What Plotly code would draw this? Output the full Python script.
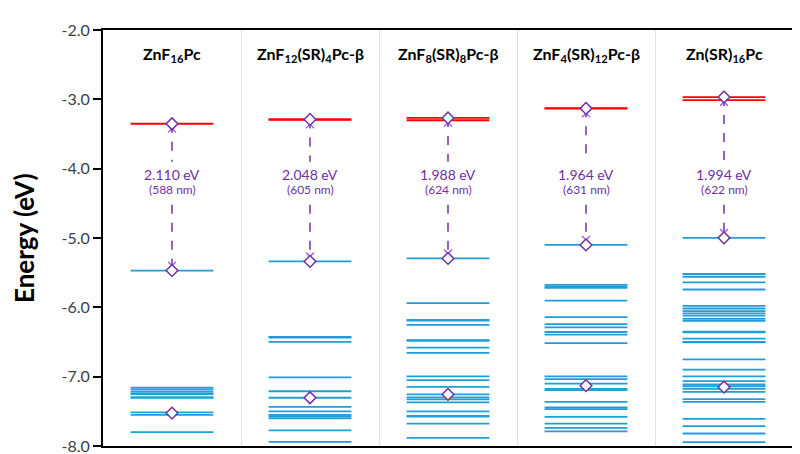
import plotly.graph_objects as go

# ---------------- data ----------------
compounds = ["ZnF<sub>16</sub>Pc", "ZnF<sub>12</sub>(SR)<sub>4</sub>Pc-β",
             "ZnF<sub>8</sub>(SR)<sub>8</sub>Pc-β", "ZnF<sub>4</sub>(SR)<sub>12</sub>Pc-β",
             "Zn(SR)<sub>16</sub>Pc"]
gap_ev = ["2.110", "2.048", "1.988", "1.964", "1.994"]
gap_nm = ["588", "605", "624", "631", "622"]

lumo = [-3.352, -3.290, -3.268, -3.130, -2.967]
homo = [-5.470, -5.338, -5.295, -5.100, -4.998]

unocc_levels = [
    [-3.352],
    [-3.287, -3.295],
    [-3.268, -3.302],
    [-3.128, -3.134],
    [-2.967, -3.010],
]
occ_levels = [
    [-5.470, -7.157, -7.185, -7.220, -7.250, -7.295, -7.305, -7.516, -7.550, -7.800],
    [-5.338, -6.428, -6.436, -6.498, -7.011, -7.210, -7.304, -7.436, -7.500, -7.550,
     -7.570, -7.600, -7.775, -7.940],
    [-5.295, -5.940, -6.183, -6.191, -6.252, -6.474, -6.482, -6.580, -6.658, -6.997,
     -7.050, -7.148, -7.256, -7.300, -7.327, -7.370, -7.500, -7.565, -7.575, -7.676,
     -7.884],
    [-5.100, -5.677, -5.700, -5.720, -5.904, -6.140, -6.243, -6.290, -6.356, -6.394,
     -6.516, -6.997, -7.035, -7.100, -7.176, -7.195, -7.365, -7.445, -7.468, -7.580,
     -7.676, -7.740, -7.790],
    [-4.998, -5.516, -5.524, -5.560, -5.640, -5.743, -5.980, -6.017, -6.054, -6.087,
     -6.120, -6.167, -6.195, -6.352, -6.360, -6.450, -6.498, -6.506, -6.752, -6.898,
     -6.997, -7.063, -7.110, -7.138, -7.176, -7.220, -7.323, -7.365, -7.610, -7.714,
     -7.820, -7.945],
]
marked_deep = [-7.525, -7.304, -7.256, -7.130, -7.150]

y_ticks = [-2.0, -3.0, -4.0, -5.0, -6.0, -7.0, -8.0]
y_tick_text = ["-2.0", "-3.0", "-4.0", "-5.0", "-6.0", "-7.0", "-8.0"]

# ---------------- style / layout constants ----------------
BLUE = "rgb(30,158,218)"
RED = "rgb(255,0,0)"
PURPLE = "#7030A0"
FONT = "Lato, 'Open Sans', sans-serif"
TITLE_Y = -2.36
EV_Y = -4.09
NM_Y = -4.305
GAP_TOP = -3.90
GAP_BOTTOM = -4.52

fig = go.Figure()

def level_trace(levels_per_col, color):
    xs, ys = [], []
    for i, levels in enumerate(levels_per_col):
        for e in levels:
            xs += [i + 0.2, i + 0.8, None]
            ys += [e, e, None]
    return go.Scatter(x=xs, y=ys, mode="lines", line=dict(color=color, width=1.8),
                      hoverinfo="skip", showlegend=False)

fig.add_trace(level_trace(occ_levels, BLUE))
fig.add_trace(level_trace(unocc_levels, RED))

# dashed transition lines (interrupted around the label)
xs, ys = [], []
for i in range(len(compounds)):
    xs += [i + 0.5, i + 0.5, None, i + 0.5, i + 0.5, None]
    ys += [lumo[i], GAP_TOP, None, GAP_BOTTOM, homo[i], None]
fig.add_trace(go.Scatter(x=xs, y=ys, mode="lines",
                         line=dict(color=PURPLE, width=1.5, dash="dash"),
                         hoverinfo="skip", showlegend=False))

# arrow heads (x-shaped) near ends
ah_x, ah_y = [], []
for i in range(len(compounds)):
    ah_x += [i + 0.5, i + 0.5]
    ah_y += [lumo[i] - 0.07, homo[i] + 0.07]
fig.add_trace(go.Scatter(x=ah_x, y=ah_y, mode="markers",
                         marker=dict(symbol="x-thin-open", size=8,
                                     line=dict(color=PURPLE, width=1.5)),
                         hoverinfo="skip", showlegend=False))

# diamonds
dx, dy = [], []
for i in range(len(compounds)):
    dx += [i + 0.5, i + 0.5, i + 0.5]
    dy += [lumo[i], homo[i], marked_deep[i]]
fig.add_trace(go.Scatter(x=dx, y=dy, mode="markers",
                         marker=dict(symbol="diamond", size=9, color="white",
                                     line=dict(color=PURPLE, width=1.5)),
                         hoverinfo="skip", showlegend=False))

# annotations
for i, name in enumerate(compounds):
    fig.add_annotation(x=i + 0.5, y=TITLE_Y, text="<b>" + name + "</b>",
                       showarrow=False, font=dict(family=FONT, size=16, color="black"))
    fig.add_annotation(x=i + 0.5, y=EV_Y, text=f"{gap_ev[i]} eV",
                       showarrow=False, font=dict(family=FONT, size=14, color=PURPLE))
    fig.add_annotation(x=i + 0.5, y=NM_Y, text=f"({gap_nm[i]} nm)",
                       showarrow=False, font=dict(family=FONT, size=12, color=PURPLE))

fig.add_annotation(xref="paper", yref="paper", x=-79 / 690, y=0.5, textangle=-90,
                   text="<b>Energy (eV)</b>", showarrow=False, xanchor="center",
                   yanchor="middle", font=dict(family=FONT, size=26, color="black"))

fig.update_xaxes(range=[0, 5], tickvals=[1, 2, 3, 4], showticklabels=False,
                 showgrid=True, gridcolor="#E2E2E2", gridwidth=1, zeroline=False,
                 showline=True, linecolor="black", linewidth=2, mirror=True, ticks="")
fig.update_yaxes(range=[-8.0, -2.0], tickvals=y_ticks, ticktext=y_tick_text,
                 showgrid=False, zeroline=False, ticks="outside", ticklen=8,
                 tickcolor="black", tickwidth=1.5, ticklabeloverflow="allow",
                 showline=True, linecolor="black", linewidth=2, mirror=True,
                 tickfont=dict(family=FONT, size=16, color="#404040"))

fig.update_layout(width=800, height=454, margin=dict(l=95, r=15, t=22, b=7),
                  plot_bgcolor="white", paper_bgcolor="white", showlegend=False)

fig.write_html("out.html")
